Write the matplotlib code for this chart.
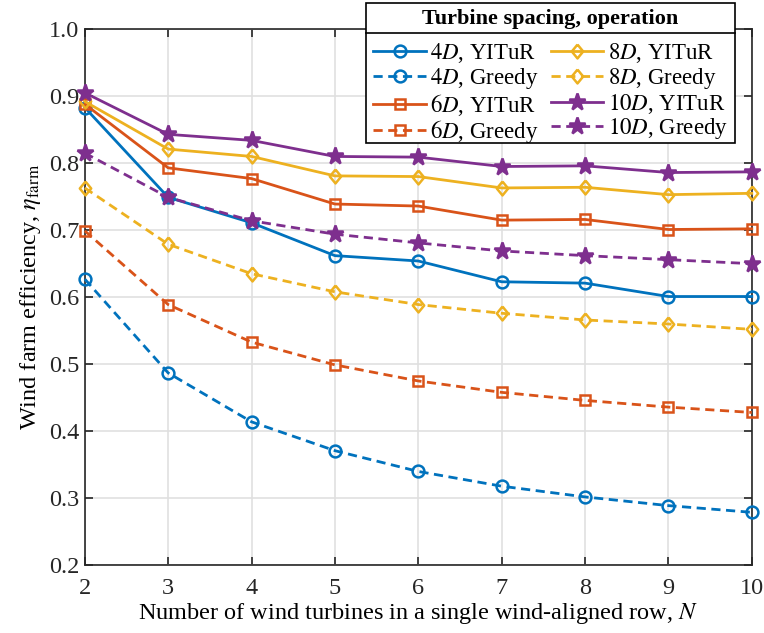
import numpy as np
import matplotlib
matplotlib.use("Agg")
import matplotlib.pyplot as plt
from matplotlib.patches import Rectangle
from matplotlib.lines import Line2D

plt.rcParams['font.family'] = ['Liberation Serif', 'DejaVu Serif']
plt.rcParams['mathtext.fontset'] = 'stix'

N = [2, 3, 4, 5, 6, 7, 8, 9, 10]

# farm efficiency per spacing, YITuR control vs greedy operation
eta_4D_yitur = [0.883, 0.749, 0.711, 0.662, 0.654, 0.623, 0.621, 0.601, 0.601]
eta_4D_greedy = [0.627, 0.487, 0.414, 0.371, 0.340, 0.318, 0.302, 0.289, 0.279]
eta_6D_yitur = [0.888, 0.793, 0.777, 0.739, 0.736, 0.715, 0.716, 0.701, 0.702]
eta_6D_greedy = [0.699, 0.589, 0.533, 0.499, 0.475, 0.458, 0.446, 0.436, 0.428]
eta_8D_yitur = [0.892, 0.821, 0.810, 0.781, 0.780, 0.763, 0.764, 0.753, 0.755]
eta_8D_greedy = [0.763, 0.679, 0.635, 0.608, 0.589, 0.576, 0.566, 0.560, 0.552]
eta_10D_yitur = [0.905, 0.843, 0.834, 0.810, 0.809, 0.795, 0.796, 0.786, 0.787]
eta_10D_greedy = [0.815, 0.749, 0.714, 0.694, 0.681, 0.669, 0.662, 0.656, 0.650]

labels = ['$4D$, YITuR', '$4D$, Greedy', '$6D$, YITuR', '$6D$, Greedy',
          '$8D$, YITuR', '$8D$, Greedy', '$10D$, YITuR', '$10D$, Greedy']
legend_title = 'Turbine spacing, operation'

blue = '#0072BD'
orange = '#D95319'
yellow = '#EDB120'
purple = '#7E2F8E'

# diamond a bit wider than matplotlib's thin 'd'
diamond = [(0, 1), (0.82, 0), (0, -1), (-0.82, 0), (0, 1)]

fig = plt.figure(figsize=(7.64, 6.33), dpi=100)
ax = fig.add_axes([0.111, 0.107, 0.873, 0.847])

dash = (0, (3.3, 2.0))
series = [
    (eta_4D_yitur, blue, '-', 'o', 'none', 8.5),
    (eta_4D_greedy, blue, dash, 'o', 'none', 8.5),
    (eta_6D_yitur, orange, '-', 's', 'none', 6.5),
    (eta_6D_greedy, orange, dash, 's', 'none', 6.5),
    (eta_8D_yitur, yellow, '-', diamond, 'none', 10),
    (eta_8D_greedy, yellow, dash, diamond, 'none', 10),
    (eta_10D_yitur, purple, '-', '*', purple, 12.5),
    (eta_10D_greedy, purple, dash, '*', purple, 12.5),
]
for (vals, c, ls, m, fc, ms), lab in zip(series, labels):
    ax.plot(N, vals, color=c, linestyle=ls, linewidth=2, marker=m,
            markersize=ms, markerfacecolor=fc, markeredgecolor=c,
            markeredgewidth=1.8, label=lab, clip_on=False, zorder=3)

ax.set_xlim(2, 10)
ax.set_ylim(0.2, 1.0)
ax.set_xticks(N)
ax.set_yticks(np.arange(0.2, 1.01, 0.1))
ax.set_yticklabels(['%.1f' % v for v in np.arange(0.2, 1.01, 0.1)])
ax.grid(True, color='#e0e0e0', linewidth=1.2)
ax.set_axisbelow(True)
for s in ax.spines.values():
    s.set_color('#262626')
    s.set_linewidth(1.2)
ax.tick_params(direction='in', length=6, width=1.2, top=True, right=True,
               labelsize=17.5, colors='#262626', pad=4)
ax.tick_params(axis='x', pad=9.5)

ax.set_xlabel('Number of wind turbines in a single wind-aligned row, $N$',
              fontsize=17.5, labelpad=1)
ax.set_ylabel(r'Wind farm efficiency, $\eta_{\rm farm}$', fontsize=17.5, labelpad=4)

# legend entries only; box and title are drawn by hand below
leg = ax.legend(ncol=2, loc='upper right', bbox_to_anchor=(0.9745, 0.990),
                bbox_transform=ax.transAxes, fontsize=16.5, frameon=False,
                handlelength=2.3, handletextpad=0.2, columnspacing=0.5,
                labelspacing=0.03, borderpad=0.3, borderaxespad=0)
leg.set_zorder(8)

fig.canvas.draw()
r = fig.canvas.get_renderer()
lb = leg.get_window_extent(r)
W, H = fig.bbox.width, fig.bbox.height
x0, x1 = lb.x0 / W, lb.x1 / W
y_top = 1 - 3 / H
y_sep = 1 - 33 / H
y_bot = 1 - 143 / H
box = Rectangle((x0, y_bot), x1 - x0, y_top - y_bot, transform=fig.transFigure,
                facecolor='white', edgecolor='black', linewidth=1.2, zorder=6,
                clip_on=False)
ax.add_artist(box)
sep = Line2D([x0, x1], [y_sep, y_sep], transform=fig.transFigure,
             color='black', linewidth=1.2, zorder=7, clip_on=False)
ax.add_artist(sep)
ax.text(0.5 * (x0 + x1), 0.5 * (y_top + y_sep) - 0.002, legend_title,
        transform=fig.transFigure, fontsize=16, fontweight='bold',
        ha='center', va='center', zorder=8, clip_on=False)

fig.savefig('out.png', dpi=100)
